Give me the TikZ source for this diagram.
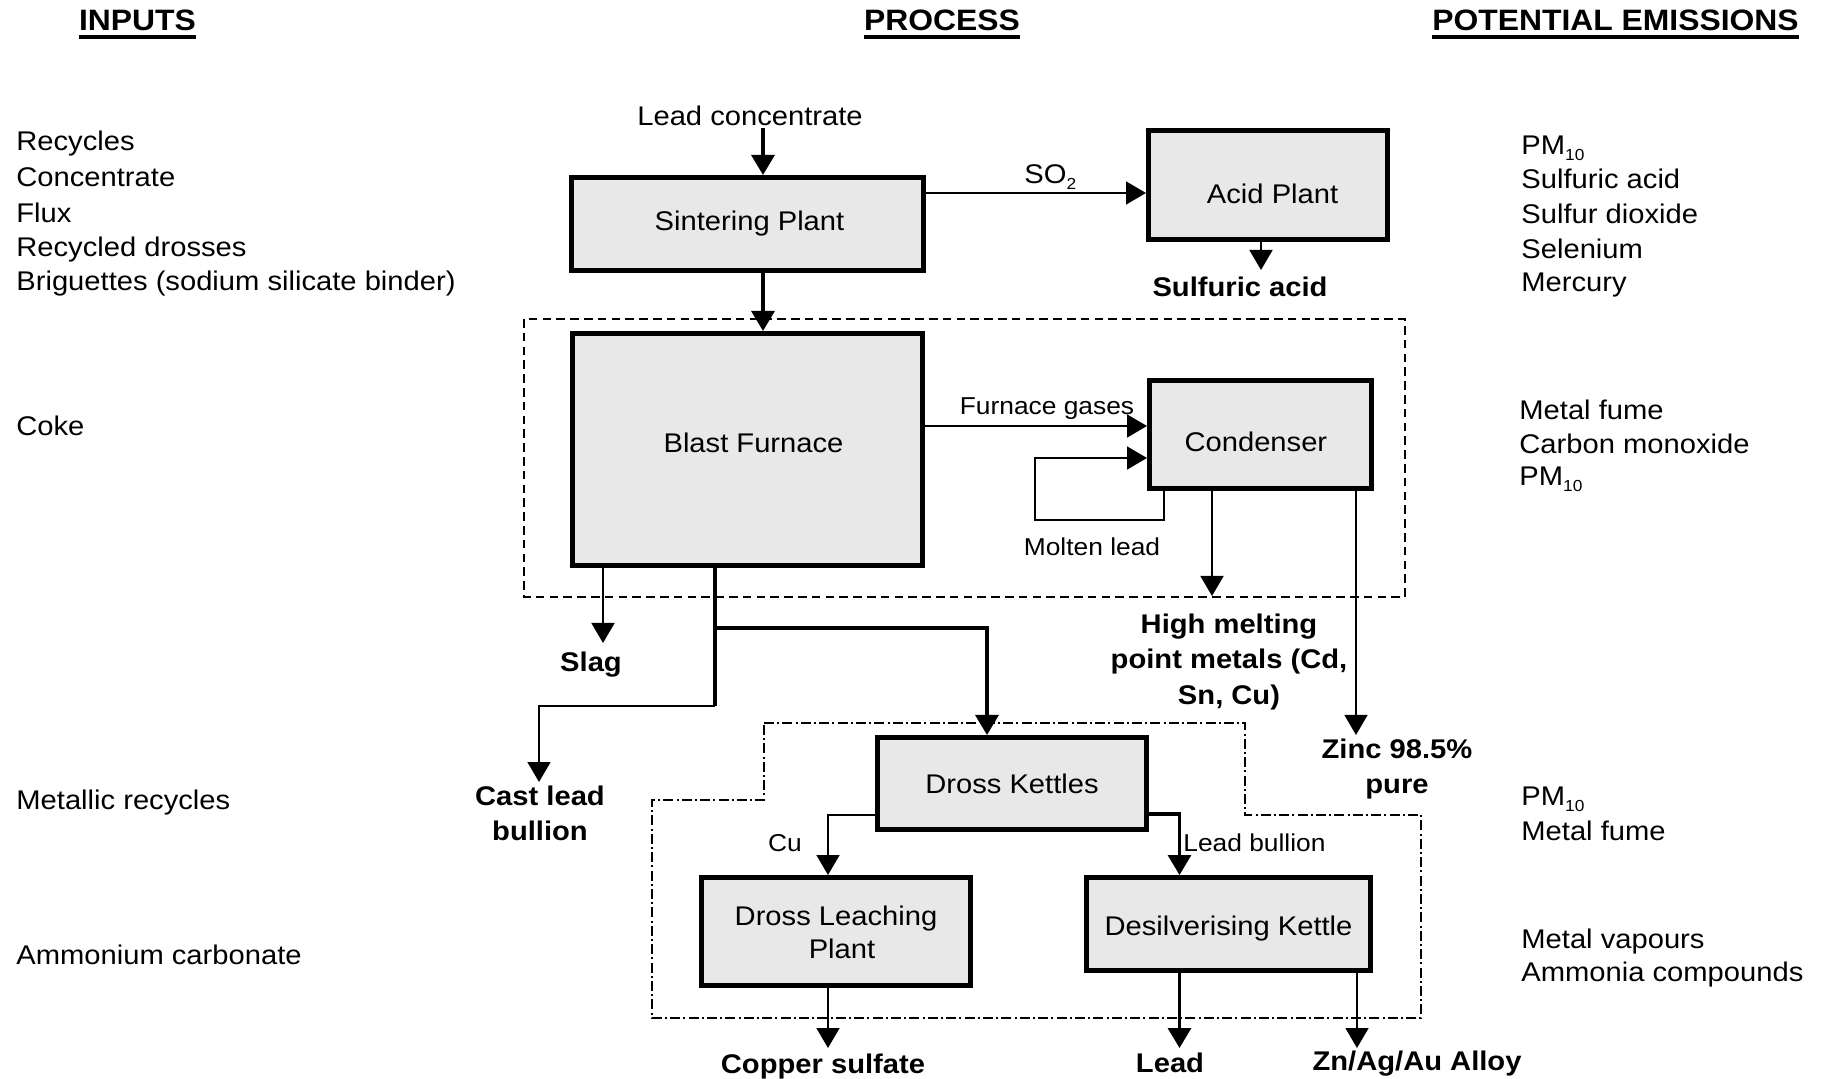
\documentclass[tikz,border=0pt]{standalone}
\usepackage{fontspec}
\setmainfont{Liberation Sans}[FakeStretch=1.08]
\usetikzlibrary{arrows.meta}
\definecolor{boxgray}{gray}{0.91}
\newcommand{\fmain}{\fontsize{13.5pt}{17.6pt}\selectfont}
\newcommand{\fsmall}{\fontsize{12.2pt}{15pt}\selectfont}
\newcommand{\fhead}{\fontsize{14.75pt}{18pt}\selectfont\bfseries}
\newcommand{\pmten}{PM\raisebox{-3pt}{\fontsize{8pt}{8pt}\selectfont 10}}
\newcommand{\shiftt}[2]{\raisebox{#1}[\height][\depth]{#2}}
\tikzset{
  box/.style={draw, line width=2.5pt, fill=boxgray, inner sep=0pt, align=center, font=\fmain},
  thn/.style={line width=0.8pt},
  thk/.style={line width=1.6pt},
  arr/.style={-{Triangle[width=11.5pt,length=10pt]}},
  lbl/.style={font=\fmain, inner sep=0pt, anchor=base west},
  blbl/.style={font=\fmain\bfseries, inner sep=0pt, align=center},
  slbl/.style={font=\fsmall, inner sep=0pt},
  hd/.style={font=\fhead, inner sep=0pt, anchor=base},
  dashbox/.style={line width=0.8pt, dash pattern=on 4.3pt off 2.6pt},
  dashdotbox/.style={line width=0.8pt, dash pattern=on 5pt off 1.6pt on 1pt off 1.6pt},
}
\begin{document}
\begin{tikzpicture}[x=0.5pt,y=-0.5pt]
\useasboundingbox (0,0) rectangle (1821,1079);

% headers
\coordinate (ul) at (0,37);
\node[hd] (hin) at (137.5,31) {INPUTS};
\node[hd] (hpr) at (942,31) {PROCESS};
\node[hd] (hem) at (1615.5,31) {POTENTIAL EMISSIONS};
\foreach \h in {hin,hpr,hem}
  \draw[line width=1.9pt] (\h.west |- ul) -- (\h.east |- ul);

% inputs
\node[lbl] (i1) at (16,151) {Recycles};
\node[lbl] (i2) at (16,186.7) {Concentrate};
\node[lbl] (i3) at (16,222.5) {Flux};
\node[lbl] (i4) at (16,256.5) {Recycled drosses};
\node[lbl] (i5) at (16,290.5) {Briguettes (sodium silicate binder)};
\node[lbl] (i6) at (16,436) {Coke};
\node[lbl] (i7) at (16,809) {Metallic recycles};
\node[lbl] (i8) at (16,964) {Ammonium carbonate};

% emissions
\node[lbl] (e1) at (1521,155) {\pmten};
\node[lbl] (e2) at (1521,189) {Sulfuric acid};
\node[lbl] (e3) at (1521,224) {Sulfur dioxide};
\node[lbl] (e4) at (1521,259) {Selenium};
\node[lbl] (e5) at (1521,292) {Mercury};
\node[lbl] (e6) at (1519,420) {Metal fume};
\node[lbl] (e7) at (1519,454) {Carbon monoxide};
\node[lbl] (e8) at (1519,486) {\pmten};
\node[lbl] (e9) at (1521,805) {\pmten};
\node[lbl] (e10) at (1521,840) {Metal fume};
\node[lbl] (e11) at (1521,948) {Metal vapours};
\node[lbl] (e12) at (1521,981) {Ammonia compounds};

% enclosures
\draw[dashbox] (524,319) rectangle (1405,597);
\draw[dashdotbox] (764,723) -- (1245,723) -- (1245,815) -- (1421,815) -- (1421,1018)
  -- (652,1018) -- (652,800) -- (764,800) -- cycle;

% boxes
\node[box, minimum width=176pt, minimum height=46.5pt] (sp) at (747.5,224) {\hspace*{2pt}Sintering Plant};
\node[box, minimum width=119.5pt, minimum height=54.5pt] (ap) at (1268,185) {\hspace*{4.6pt}\shiftt{-4.5pt}{Acid Plant}};
\node[box, minimum width=175pt, minimum height=116pt] (bf) at (747.5,449.5) {\hspace*{6pt}\shiftt{3.5pt}{Blast Furnace}};
\node[box, minimum width=111pt, minimum height=54pt] (cd) at (1260.5,434.5) {\shiftt{-3.5pt}{Condenser}\hspace*{4.6pt}};
\node[box, minimum width=134.5pt, minimum height=46pt] (dk) at (1012,783.5) {Dross Kettles};
\node[box, minimum width=134.5pt, minimum height=54pt] (dl) at (836,931.5) {\shiftt{-1pt}{Dross Leaching}\\\hspace*{6pt}Plant};
\node[box, minimum width=142pt, minimum height=46.5pt] (dsk) at (1228.5,924) {\shiftt{-2.3pt}{Desilverising Kettle}};

% labels
\node[font=\fmain, inner sep=0pt] (lc) at (750,115.7) {Lead concentrate};
\node[font=\fmain, inner sep=0pt, anchor=base west] (so2) at (1024,184) {SO\raisebox{-3pt}{\fontsize{8pt}{8pt}\selectfont 2}};
\node[blbl] (sa) at (1240,287) {Sulfuric acid};
\node[slbl] (fgl) at (1047,409) {Furnace gases};
\node[slbl] (mll) at (1092,547) {Molten lead};
\node[blbl] (hm) at (1229,662) {High melting\\point metals (Cd,\\Sn, Cu)};
\node[blbl] (zn) at (1397,769) {Zinc 98.5\%\\pure};
\node[blbl] (slag) at (591,664.5) {Slag};
\node[blbl] (cl) at (540,813.5) {Cast lead\\bullion};
\node[slbl] (cu) at (785,843) {Cu};
\node[slbl, anchor=west] (lbl) at (1183,843) {Lead bullion};
\node[blbl] (cs) at (823,1066.5) {Copper sulfate};
\node[blbl] (ld) at (1170,1063) {Lead};
\node[blbl] (za) at (1417,1063.5) {Zn/Ag/Au Alloy};

% connectors
\coordinate (lcx) at (763,128);
\draw[thk,arr] (lcx) -- (lcx |- sp.north);
\draw[thk,arr] (lcx |- sp.south) -- (lcx |- bf.north);
\coordinate (so) at (0,193);
\draw[thn,arr] (sp.east |- so) -- (ap.west |- so);
\coordinate (sat) at (1261,270);
\draw[thn,arr] (sat |- ap.south) -- (sat);
\coordinate (fg) at (0,426);
\draw[thn,arr] (bf.east |- fg) -- (cd.west |- fg);
\coordinate (ml1) at (1164,520);
\coordinate (ml2) at (1035,458);
\draw[thn,arr] (ml1 |- cd.south) -- (ml1) -- (ml2 |- ml1) -- (ml2) -- (cd.west |- ml2);
\coordinate (hmt) at (1212,596);
\draw[thn,arr] (hmt |- cd.south) -- (hmt);
\coordinate (zt) at (1356,735);
\draw[thn,arr] (zt |- cd.south) -- (zt);
\coordinate (st) at (603,643);
\draw[thn,arr] (st |- bf.south) -- (st);
\coordinate (tj) at (715,628);
\coordinate (tb) at (715,706);
\coordinate (dkx) at (987,628);
\draw[thk] (tj |- bf.south) -- (tb);
\draw[thk,arr] (tj) -- (dkx) -- (dkx |- dk.north);
\coordinate (clt) at (539,782);
\draw[thn,arr] (tb) -- (clt |- tb) -- (clt);
\coordinate (cux) at (828,815);
\draw[thn,arr] (dk.west |- cux) -- (cux) -- (cux |- dl.north);
\coordinate (lbx) at (1179.5,814);
\draw[thk,arr] (dk.east |- lbx) -- (lbx) -- (lbx |- dsk.north);
\coordinate (cst) at (828,1048);
\draw[thn,arr] (cst |- dl.south) -- (cst);
\coordinate (lt) at (1179.5,1048);
\draw[thk,arr] (lt |- dsk.south) -- (lt);
\coordinate (znt) at (1357,1048);
\draw[thn,arr] (znt |- dsk.south) -- (znt);
\end{tikzpicture}
\end{document}
